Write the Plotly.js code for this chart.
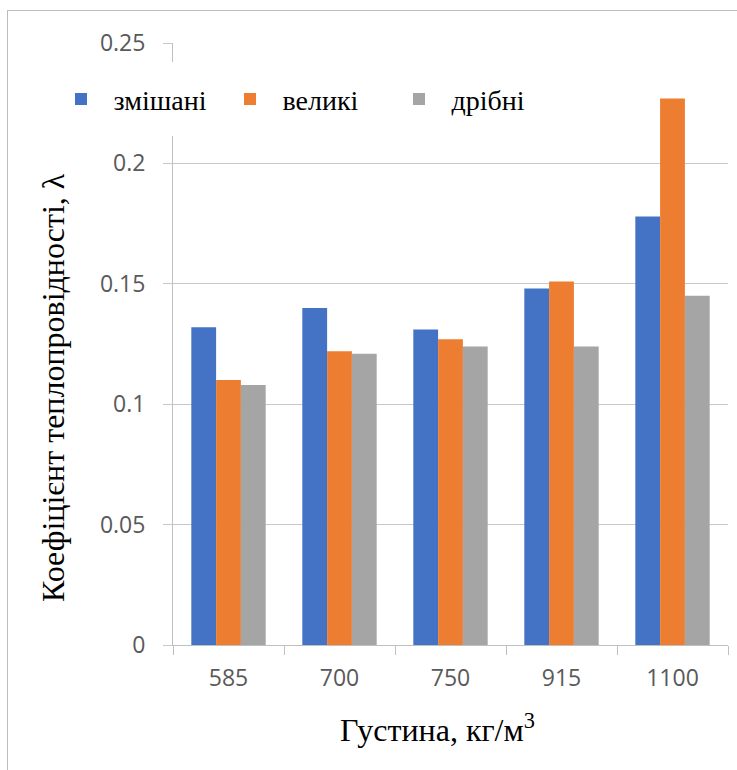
<!DOCTYPE html>
<html>
<head>
<meta charset="utf-8">
<script src="https://cdn.plot.ly/plotly-3.0.1.min.js"></script>
<style>
  html, body { margin: 0; padding: 0; background: #fff; overflow: hidden; }
  #frame { position: absolute; left: 7px; top: 10px; width: 760px; height: 800px;
           border-left: 1px solid #bdbdbd; border-top: 1px solid #bdbdbd; }
  #chart { position: absolute; left: 0; top: 0; width: 737px; height: 770px; }
</style>
</head>
<body>
<div id="frame"></div>
<div id="chart"></div>
<script>
// Density categories, kg/m3
const densities = ['585', '700', '750', '915', '1100'];

// Thermal conductivity per aggregate fraction
const mixed  = [0.132, 0.140, 0.131, 0.148, 0.178];
const coarse = [0.110, 0.122, 0.127, 0.151, 0.227];
const fine   = [0.108, 0.121, 0.124, 0.124, 0.145];

const seriesNames = ['змішані', 'великі', 'дрібні'];
const yTicks = [0, 0.05, 0.1, 0.15, 0.2, 0.25];
const yTickText = ['0', '0.05', '0.1', '0.15', '0.2', '0.25'];

const xTitle = 'Густина, кг/м<sup>3</sup>';
const yTitle = 'Коефіцієнт теплопровідності, λ';

const colors = ['#4472C4', '#ED7D31', '#A5A5A5'];
const tickFont = { family: 'Open Sans', size: 23, color: '#595959' };
const serif = 'Liberation Serif, serif';

const traces = [mixed, coarse, fine].map((vals, i) => ({
  type: 'bar',
  name: seriesNames[i],
  x: densities,
  y: vals,
  marker: { color: colors[i], line: { width: 0 } },
  hoverinfo: 'x+y+name'
}));

const layout = {
  width: 737,
  height: 770,
  margin: { l: 173, r: 9, t: 43, b: 125, autoexpand: false },
  font: { family: serif, size: 28, color: '#000' },
  paper_bgcolor: 'rgba(0,0,0,0)',
  plot_bgcolor: 'rgba(0,0,0,0)',
  barmode: 'group',
  bargap: 0.33,
  bargroupgap: 0,
  showlegend: true,
  legend: {
    orientation: 'h',
    x: 0.7108, xanchor: 'right',
    y: 0.968, yanchor: 'top',
    bgcolor: '#ffffff',
    bordercolor: '#ffffff',
    borderwidth: 12,
    font: { family: serif, size: 28, color: '#000' },
    itemwidth: 55,
    entrywidth: 99,
    entrywidthmode: 'pixels',
    traceorder: 'normal'
  },
  xaxis: {
    type: 'category',
    showgrid: false,
    showline: true,
    linecolor: '#bfbfbf',
    linewidth: 1,
    ticks: 'outside',
    tickson: 'boundaries',
    ticklen: 9,
    tickcolor: '#bfbfbf',
    tickfont: tickFont,
    ticklabelstandoff: 12,
    fixedrange: true
  },
  yaxis: {
    range: [0, 0.25],
    tickvals: yTicks,
    ticktext: yTickText,
    showgrid: true,
    gridcolor: '#c8c8c8',
    gridwidth: 1.2,
    zeroline: false,
    showline: true,
    linecolor: '#bfbfbf',
    linewidth: 1,
    ticks: 'outside',
    ticklen: 9,
    tickcolor: '#c8c8c8',
    tickfont: tickFont,
    ticklabelstandoff: 13,
    fixedrange: true
  },
  annotations: [
    {
      text: yTitle,
      textangle: -90,
      xref: 'paper', yref: 'paper',
      x: -0.216, y: 0.427,
      xanchor: 'center', yanchor: 'middle',
      showarrow: false,
      font: { family: serif, size: 32, color: '#000' }
    },
    {
      text: xTitle,
      xref: 'paper', yref: 'paper',
      x: 0.4766, y: -0.138,
      xanchor: 'center', yanchor: 'middle',
      showarrow: false,
      font: { family: serif, size: 32, color: '#000' }
    }
  ]
};

Plotly.newPlot('chart', traces, layout, { displayModeBar: false, staticPlot: true });
</script>
</body>
</html>
